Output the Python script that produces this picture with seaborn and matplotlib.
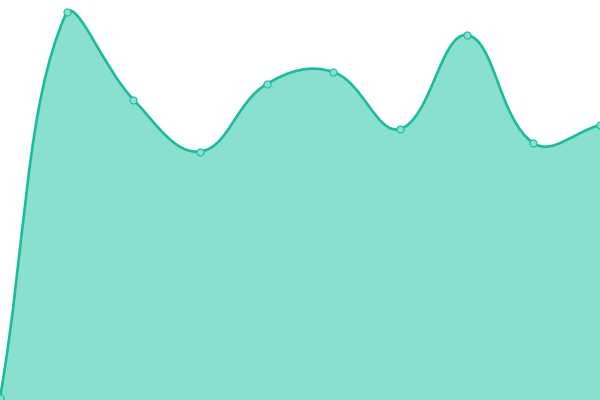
import numpy as np
import pandas as pd
import matplotlib
matplotlib.use("Agg")
import matplotlib.pyplot as plt
from matplotlib.path import Path
from matplotlib.patches import PathPatch
import seaborn as sns

# Data (value axis 0..400)
labels = ["p0", "p1", "p2", "p3", "p4", "p5", "p6", "p7", "p8", "p9"]
values = [2, 388, 300.5, 248.5, 316, 328, 271, 365, 257, 275]

LINE = "#1abc9c"
FILL = "#89e0cf"
TENSION = 0.4

sns.set_theme(style="white")

fig = plt.figure(figsize=(6, 4), dpi=100)
ax = fig.add_axes([0, 0, 1, 1])
ax.set_xlim(0, len(values) - 1)
ax.set_ylim(0, 400)
ax.set_axis_off()

df = pd.DataFrame({"idx": np.arange(len(values)), "label": labels, "value": values})

# Catmull-Rom style bezier (like Chart.js tension) computed in display space,
# control points capped to the plotting area
pts = ax.transData.transform(np.column_stack([df["idx"], df["value"]]))
bbox = ax.bbox
lo = np.array([bbox.x0, bbox.y0])
hi = np.array([bbox.x1, bbox.y1])
n = len(pts)
ctrl_prev, ctrl_next = [], []
for i in range(n):
    prev = pts[i - 1] if i > 0 else pts[i]
    cur = pts[i]
    nxt = pts[i + 1] if i < n - 1 else pts[i]
    d01 = np.hypot(*(cur - prev))
    d12 = np.hypot(*(nxt - cur))
    tot = d01 + d12
    s01 = d01 / tot if tot else 0
    s12 = d12 / tot if tot else 0
    ctrl_prev.append(np.clip(cur - TENSION * s01 * (nxt - prev), lo, hi))
    ctrl_next.append(np.clip(cur + TENSION * s12 * (nxt - prev), lo, hi))

verts = [pts[0]]
codes = [Path.MOVETO]
for i in range(n - 1):
    verts += [ctrl_next[i], ctrl_prev[i + 1], pts[i + 1]]
    codes += [Path.CURVE4] * 3
inv = ax.transData.inverted()
verts = inv.transform(np.array(verts))

line_path = Path(verts, codes)
fill_verts = np.vstack([verts, [[verts[-1][0], 0], [verts[0][0], 0], verts[0]]])
fill_codes = codes + [Path.LINETO, Path.LINETO, Path.CLOSEPOLY]
fill_path = Path(fill_verts, fill_codes)

ax.add_patch(PathPatch(fill_path, facecolor=FILL, edgecolor="none", zorder=1))
ax.add_patch(PathPatch(line_path, facecolor="none", edgecolor=LINE, lw=1.9,
                       capstyle="round", joinstyle="round", zorder=2))

sns.scatterplot(data=df, x="idx", y="value", ax=ax, s=26, color=FILL,
                edgecolor=LINE, linewidth=0.8, zorder=3, clip_on=False, legend=False)
ax.set_xlim(0, len(values) - 1)
ax.set_ylim(0, 400)
ax.set_axis_off()

fig.savefig("out.png", dpi=100)
